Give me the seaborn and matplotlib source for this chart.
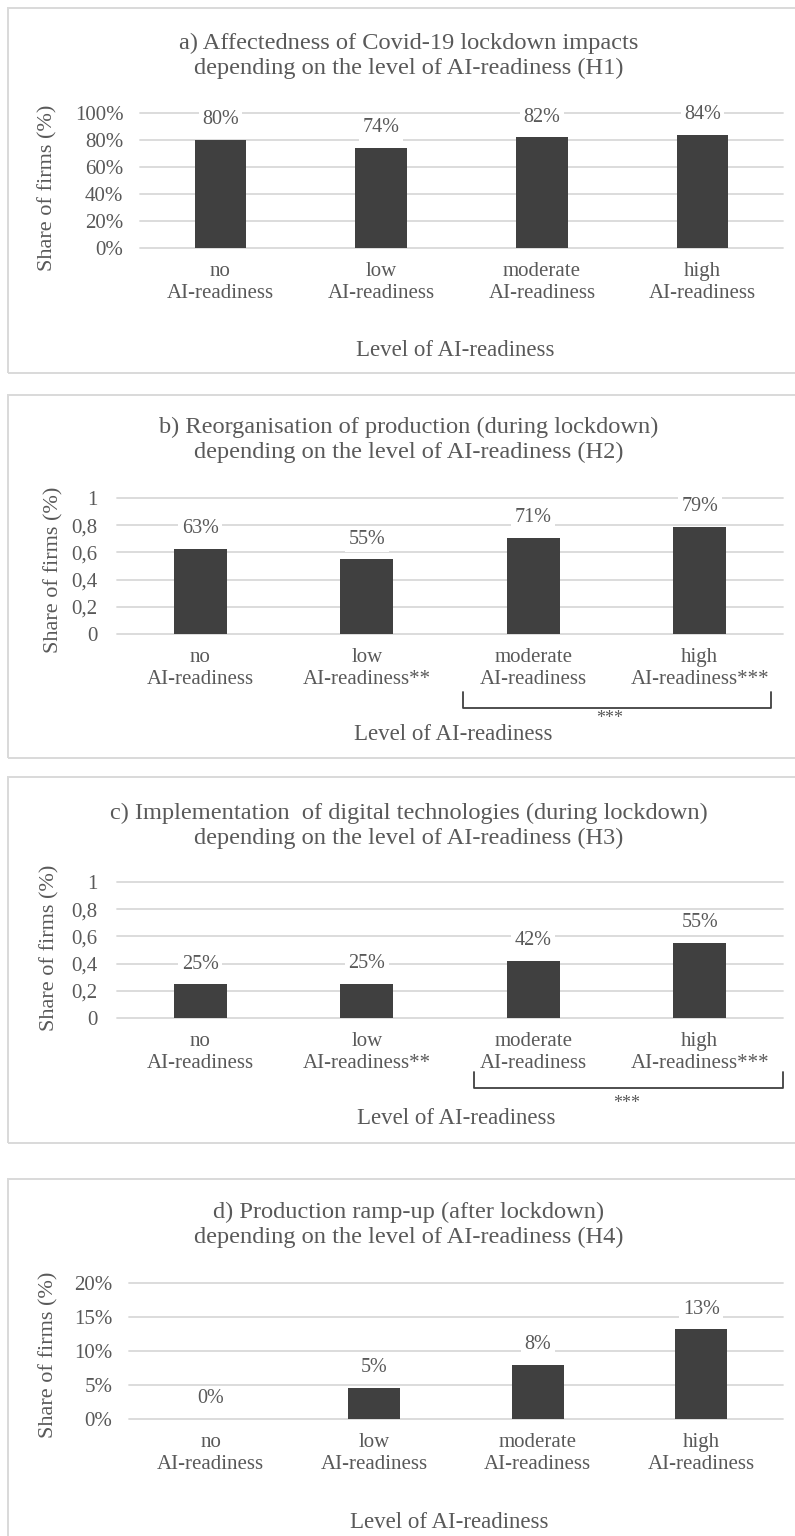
import matplotlib
matplotlib.use("Agg")
import matplotlib.pyplot as plt
import seaborn as sns
import pandas as pd
from matplotlib.lines import Line2D
from matplotlib.patches import Rectangle
from matplotlib.ticker import FuncFormatter, MultipleLocator

# ---- data -----------------------------------------------------------------
levels = ["no", "low", "moderate", "high"]

affected = [0.80, 0.74, 0.82, 0.84]          # H1
reorganised = [0.627, 0.548, 0.706, 0.789]   # H2
digitalised = [0.248, 0.250, 0.420, 0.554]   # H3
ramp_up = [0.0, 0.046, 0.080, 0.132]         # H4

labels_plain = ["no\nAI-readiness", "low\nAI-readiness",
                "moderate\nAI-readiness", "high\nAI-readiness"]
labels_marked = ["no\nAI-readiness", "low\nAI-readiness**",
                 "moderate\nAI-readiness", "high\nAI-readiness***"]

titles = [
    "a) Affectedness of Covid-19 lockdown impacts\ndepending on the level of AI-readiness (H1)",
    "b) Reorganisation of production (during lockdown)\ndepending on the level of AI-readiness (H2)",
    "c) Implementation  of digital technologies (during lockdown)\ndepending on the level of AI-readiness (H3)",
    "d) Production ramp-up (after lockdown)\ndepending on the level of AI-readiness (H4)",
]
y_title = "Share of firms (%)"
x_title = "Level of AI-readiness"

# ---- style ----------------------------------------------------------------
sns.set_style("white")
plt.rcParams["font.family"] = ["Liberation Serif", "DejaVu Serif"]
TEXT = "#595959"
BAR = "#404040"
GRID = "#d9d9d9"

W, H = 795, 1536
fig = plt.figure(figsize=(W / 100, H / 100), dpi=100)


def fx(px):
    return px / W


def fy(py):
    return 1 - py / H


def pct(v, _):
    return f"{v:.0%}"


def comma(v, _):
    return f"{round(v, 1):g}".replace(".", ",")


panels = [
    dict(values=affected, labels=labels_plain, box=(8, 8, 800, 373),
         ax=(140, 113, 783, 248), ymax=1.0, step=0.2, fmt=pct, ypad=12,
         title_y=56, ylab=(48, 188), xlab=(455, 350), bracket=None),
    dict(values=reorganised, labels=labels_marked, box=(8, 395, 800, 758),
         ax=(117, 498, 783, 634), ymax=1.0, step=0.2, fmt=comma, ypad=14,
         title_y=440, ylab=(54, 570), xlab=(453, 735),
         bracket=(463, 771, 692, 708, 610, 719)),
    dict(values=digitalised, labels=labels_marked, box=(8, 777, 800, 1143),
         ax=(117, 882, 783, 1018), ymax=1.0, step=0.2, fmt=comma, ypad=14,
         title_y=826, ylab=(50, 948), xlab=(456, 1119),
         bracket=(474, 783, 1072, 1088, 627, 1104)),
    dict(values=ramp_up, labels=labels_plain, box=(8, 1179, 800, 1560),
         ax=(129, 1283, 783, 1419), ymax=0.20, step=0.05, fmt=pct, ypad=12,
         title_y=1225, ylab=(49, 1355), xlab=(449, 1522), bracket=None),
]

for p, title in zip(panels, titles):
    # panel frame
    bx0, by0, bx1, by1 = p["box"]
    fig.add_artist(Rectangle((fx(bx0), fy(by1)), fx(bx1 - bx0), (by1 - by0) / H,
                             transform=fig.transFigure, facecolor="none",
                             edgecolor=GRID, linewidth=1.4))

    l, t, r, b = p["ax"]
    ax = fig.add_axes([fx(l), fy(b), (r - l) / W, (b - t) / H])

    df = pd.DataFrame({"level": levels, "share": p["values"]})
    sns.barplot(data=df, x="level", y="share", ax=ax, color=BAR,
                saturation=1, width=0.32, edgecolor="none", errorbar=None)

    ax.set_ylim(0, p["ymax"])
    ax.set_xlim(-0.5, 3.5)
    ax.yaxis.set_major_locator(MultipleLocator(p["step"]))
    ax.yaxis.set_major_formatter(FuncFormatter(p["fmt"]))
    ax.set_xticks(range(len(levels)))
    ax.set_xticklabels(p["labels"], multialignment="center")
    ax.set_xlabel("")
    ax.set_ylabel("")
    ax.set_axisbelow(True)
    ax.yaxis.grid(True, color=GRID, linewidth=1.3)
    for gl in ax.get_ygridlines():
        gl.set_clip_on(False)
    for s in ax.spines.values():
        s.set_visible(False)
    ax.tick_params(axis="x", length=0, pad=10, labelsize=15, labelcolor=TEXT)
    ax.tick_params(axis="y", length=0, pad=p["ypad"], labelsize=15,
                   labelcolor=TEXT)

    # value labels above the bars
    for i, v in enumerate(p["values"]):
        ax.annotate(f"{v:.0%}", (i, v), xytext=(0, 14.5),
                    textcoords="offset points", ha="center", va="center",
                    fontsize=14.5, color=TEXT,
                    bbox=dict(facecolor="white", edgecolor="none", pad=2.5))

    fig.text(fx(409), fy(p["title_y"]), title, ha="center", va="center",
             fontsize=17.6, color=TEXT, linespacing=1.2)
    fig.text(fx(p["ylab"][0]), fy(p["ylab"][1]), y_title, rotation=90,
             ha="center", va="center", fontsize=16, color=TEXT)
    fig.text(fx(p["xlab"][0]), fy(p["xlab"][1]), x_title, ha="center",
             va="center", fontsize=16.5, color=TEXT)

    if p["bracket"]:
        x0, x1, ytop, ybot, sx, sy = p["bracket"]
        fig.add_artist(Line2D([fx(x0), fx(x0), fx(x1), fx(x1)],
                              [fy(ytop), fy(ybot), fy(ybot), fy(ytop)],
                              transform=fig.transFigure, color=BAR,
                              linewidth=1.3))
        fig.text(fx(sx), fy(sy), "***", ha="center", va="center",
                 fontsize=13, color=TEXT)

fig.savefig("out.png", dpi=100, facecolor="white")
